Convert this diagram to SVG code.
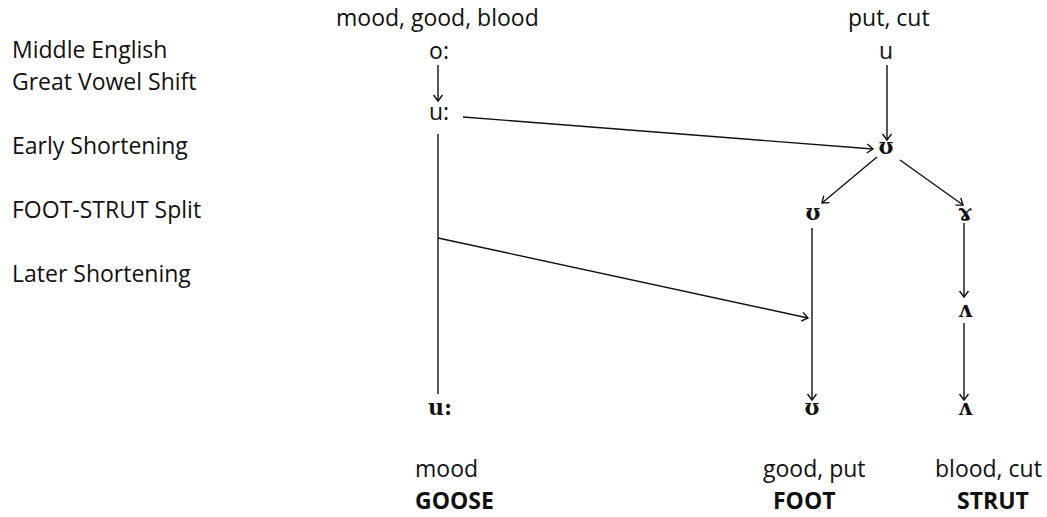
<svg xmlns="http://www.w3.org/2000/svg" width="1047" height="517" viewBox="0 0 1047 517">
<style>
.t{font-family:"Open Sans","Liberation Sans",sans-serif;font-size:23px;fill:#111}
.b{font-weight:bold}
.s{font-family:"DejaVu Serif","Liberation Serif",serif;font-size:22px;font-weight:bold;fill:#111;text-anchor:middle}
.ss{font-family:"Open Sans","Liberation Sans",sans-serif;font-size:23px;fill:#111;text-anchor:middle}
.c{stroke:#111;stroke-width:1.4;fill:none}
</style>
<defs>
<marker id="a" markerUnits="userSpaceOnUse" markerWidth="12" markerHeight="12" refX="9" refY="6" orient="auto">
<path d="M3,1.5 L9,6 L3,10.5" fill="none" stroke="#111" stroke-width="1.4"/>
</marker>
</defs>
<rect width="1047" height="517" fill="#fff"/>
<g id="stages">
<text class="t" x="12" y="58">Middle English</text>
<text class="t" x="12" y="90">Great Vowel Shift</text>
<text class="t" x="12" y="154">Early Shortening</text>
<text class="t" x="12" y="218">FOOT-STRUT Split</text>
<text class="t" x="12" y="282">Later Shortening</text>
</g>
<g id="top-words">
<text class="t" x="336" y="26">mood, good, blood</text>
<text class="t" x="848" y="26">put, cut</text>
</g>
<g id="n-o-long"><text class="ss" x="439" y="59">o:</text></g>
<g id="n-u-top"><text class="ss" x="886" y="59">u</text></g>
<g id="n-u-long"><text class="ss" x="439" y="120">u:</text></g>
<g id="n-upsilon-early"><text class="s" x="886" y="154">ʊ</text></g>
<g id="n-upsilon-split"><text class="s" x="813" y="220">ʊ</text></g>
<g id="n-ram-split"><text class="s" x="965" y="220">ɤ</text></g>
<g id="n-wedge-later"><text class="s" x="965" y="317">ʌ</text></g>
<g id="n-u-long-final"><text class="s" x="440" y="415">u:</text></g>
<g id="n-upsilon-final"><text class="s" x="812" y="415">ʊ</text></g>
<g id="n-wedge-final"><text class="s" x="965" y="415">ʌ</text></g>
<g id="results">
<text class="t" x="415" y="477">mood</text>
<text class="t b" x="415" y="509">GOOSE</text>
<text class="t" x="763" y="477">good, put</text>
<text class="t b" x="773" y="509">FOOT</text>
<text class="t" x="935" y="477">blood, cut</text>
<text class="t b" x="957" y="509">STRUT</text>
</g>
<g id="connectors">
<line class="c" x1="438" y1="65" x2="438" y2="101" marker-end="url(#a)"/>
<line class="c" x1="887" y1="65" x2="887" y2="140" marker-end="url(#a)"/>
<line class="c" x1="463" y1="117" x2="873" y2="149" marker-end="url(#a)"/>
<line class="c" x1="438" y1="134" x2="438" y2="394"/>
<line class="c" x1="877" y1="157" x2="822" y2="203" marker-end="url(#a)"/>
<line class="c" x1="900" y1="160" x2="963" y2="205" marker-end="url(#a)"/>
<line class="c" x1="438" y1="238" x2="808" y2="318" marker-end="url(#a)"/>
<line class="c" x1="812" y1="228" x2="812" y2="400" marker-end="url(#a)"/>
<line class="c" x1="964" y1="223" x2="964" y2="297" marker-end="url(#a)"/>
<line class="c" x1="964" y1="323" x2="964" y2="400" marker-end="url(#a)"/>
</g>
</svg>
